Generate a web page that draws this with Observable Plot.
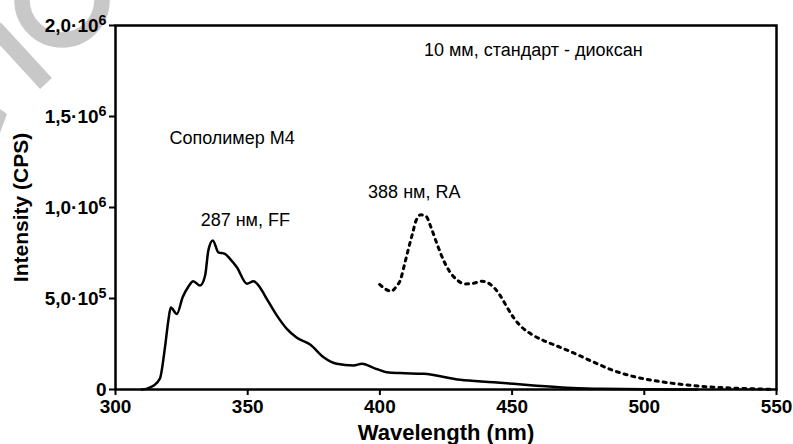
<!DOCTYPE html>
<html><head><meta charset="utf-8">
<script src="https://cdn.jsdelivr.net/npm/d3@7"></script>
<script src="https://cdn.jsdelivr.net/npm/@observablehq/plot@0.6"></script>
<style>
html,body{margin:0;padding:0;background:#fff;}
#wrap{position:relative;width:793px;height:444px;overflow:hidden;}
#wm{position:absolute;left:0;top:0;z-index:0;}
#chart{position:absolute;left:0;top:0;z-index:1;}
</style></head><body>
<div id="wrap">
<svg id="wm" width="793" height="444">
  <circle cx="62" cy="0" r="40" fill="none" stroke="#c8c8c8" stroke-width="15.5"/>
  <line x1="-5" y1="28" x2="46" y2="83.5" stroke="#c8c8c8" stroke-width="16"/>
  <polygon points="0,109 7,114 0,133" fill="#c8c8c8"/>
</svg>
<div id="chart"></div>
</div>
<script>
// Copolymer M4, 287 nm excitation (FF) — solid line
const ffWavelength = [310, 312, 314.3, 316.8, 318.7, 320, 320.9, 323.2, 325.4, 327.6, 329.4, 332, 333.9, 335.1, 336.8, 338.9, 341.4, 343.3, 345.9, 349.7, 352.2, 354.7, 357.2, 361, 364.8, 368.6, 373.6, 378.7, 383.7, 390, 393.2, 397.6, 402.6, 407.7, 416.5, 430.4, 443, 458.1, 470.8, 483.4, 500, 520];
const ffIntensity  = [0, 0.005e6, 0.02e6, 0.06e6, 0.23e6, 0.38e6, 0.45e6, 0.415e6, 0.507e6, 0.566e6, 0.595e6, 0.571e6, 0.626e6, 0.763e6, 0.819e6, 0.754e6, 0.745e6, 0.718e6, 0.672e6, 0.581e6, 0.595e6, 0.559e6, 0.498e6, 0.407e6, 0.333e6, 0.284e6, 0.247e6, 0.177e6, 0.141e6, 0.132e6, 0.141e6, 0.119e6, 0.095e6, 0.09e6, 0.086e6, 0.053e6, 0.04e6, 0.022e6, 0.009e6, 0.004e6, 0.001e6, 0];

// 388 nm excitation (RA) — dotted line
const raWavelength = [399.9, 402, 404.2, 406.2, 407.9, 409.2, 410.8, 412.3, 413.7, 415.5, 417.5, 419.3, 421.6, 424.1, 426.3, 429.1, 432.3, 435.4, 438.6, 441.1, 443.6, 445.5, 448.1, 450.6, 453.7, 457.5, 461.9, 468.2, 474.6, 480.9, 488.4, 496, 503.6, 512.4, 521.2, 531.3, 541.4, 549];
const raIntensity  = [0.577e6, 0.553e6, 0.54e6, 0.566e6, 0.608e6, 0.681e6, 0.773e6, 0.855e6, 0.929e6, 0.96e6, 0.951e6, 0.892e6, 0.80e6, 0.709e6, 0.65e6, 0.603e6, 0.58e6, 0.584e6, 0.595e6, 0.584e6, 0.553e6, 0.516e6, 0.452e6, 0.394e6, 0.342e6, 0.302e6, 0.269e6, 0.232e6, 0.192e6, 0.15e6, 0.104e6, 0.071e6, 0.049e6, 0.031e6, 0.018e6, 0.009e6, 0.004e6, 0];

const xTicks = [300, 350, 400, 450, 500, 550];
const yTicks = [0, 5e5, 1e6, 1.5e6, 2e6];
const yTickLabels = ["0", "5,0·10^5", "1,0·10^6", "1,5·10^6", "2,0·10^6"];

const annText = ["10 мм, стандарт - диоксан", "Сополимер М4", "287 нм, FF", "388 нм, RA"];
const annX = [458.0, 344.1, 349.1, 413.0];
const annY = [1.863e6, 1.379e6, 0.929e6, 1.085e6];

const ff = ffWavelength.map((w, i) => ({w, v: ffIntensity[i]}));
const ra = raWavelength.map((w, i) => ({w, v: raIntensity[i]}));
const ann = annText.map((t, i) => ({t, x: annX[i], y: annY[i]}));

const plot = Plot.plot({
  width: 793, height: 444,
  marginLeft: 115, marginRight: 17, marginTop: 25, marginBottom: 55,
  style: {background: "transparent", fontFamily: "'Liberation Sans', Arial, sans-serif", fontSize: "19px", color: "#000", overflow: "visible"},
  x: {domain: [300, 550]},
  y: {domain: [0, 2e6]},
  marks: [
    Plot.axisX({ticks: xTicks, tickFormat: d => String(d), tickSize: 6, tickPadding: 4, strokeWidth: 2, fontSize: 19, label: null}),
    Plot.axisX({ticks: [], label: "Wavelength (nm)", labelAnchor: "center", labelOffset: 50, labelArrow: "none", fontSize: 22}),
    Plot.axisY({ticks: yTicks, tickFormat: d => yTickLabels[yTicks.indexOf(d)], tickSize: 6, tickPadding: 3, strokeWidth: 2, fontSize: 19, label: null}),
    Plot.axisY({ticks: [], label: "Intensity (CPS)", labelAnchor: "center", labelOffset: 102, labelArrow: "none", fontSize: 21}),
    Plot.line(ff, {x: "w", y: "v", stroke: "#000", strokeWidth: 2.5, curve: "monotone-x"}),
    Plot.line(ra, {x: "w", y: "v", stroke: "#000", strokeWidth: 3, strokeDasharray: "3 5", curve: "monotone-x"}),
    Plot.text(ann, {x: "x", y: "y", text: "t", fontSize: 18, fill: "#000"}),
    Plot.frame({stroke: "#000", strokeWidth: 2.5})
  ]
});
document.getElementById("chart").appendChild(plot);

// bold axis text, superscript exponents
plot.querySelectorAll('g[aria-label]').forEach(g => {
  if ((g.getAttribute("aria-label") || "").includes("axis")) g.setAttribute("font-weight", "bold");
});
plot.querySelectorAll('g[aria-label="y-axis tick label"] text').forEach(t => {
  const s = t.textContent;
  if (s.includes("^")) {
    const [base, exp] = s.split("^");
    t.textContent = base;
    const ts = document.createElementNS("http://www.w3.org/2000/svg", "tspan");
    ts.setAttribute("dy", "-0.45em");
    ts.setAttribute("font-size", "0.75em");
    ts.textContent = exp;
    t.appendChild(ts);
  }
});
</script>
</body></html>
